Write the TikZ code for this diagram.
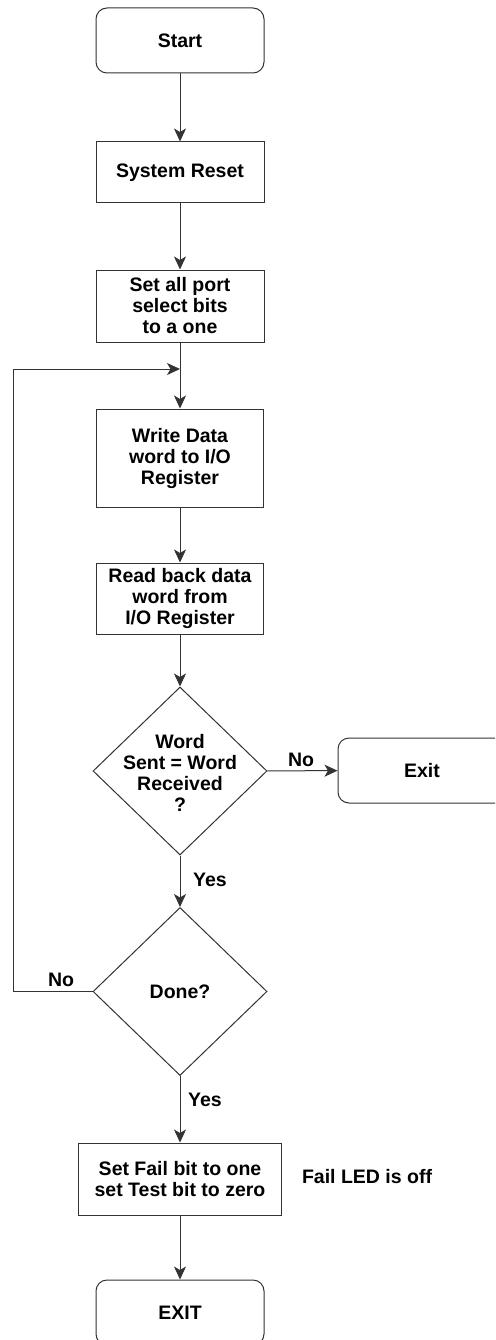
\documentclass[tikz,border=0pt]{standalone}
\usepackage{fontspec}
\setmainfont{Liberation Sans}
\usetikzlibrary{shapes.geometric,arrows.meta}

\definecolor{edge}{HTML}{333333}

\tikzset{
  every node/.style={font=\bfseries\fontsize{19.5}{21}\selectfont, text=black},
  procbox/.style={draw=edge, line width=1pt, rectangle, align=center, inner sep=0pt},
  termbox/.style={procbox, rounded corners=11pt, minimum width=168pt, minimum height=65pt},
  decision/.style={draw=edge, line width=1pt, diamond, inner sep=0pt,
                   minimum width=174pt, minimum height=168pt},
  flow/.style={draw=edge, line width=1pt, -{Stealth[length=13pt,width=12pt,inset=3.5pt]}},
  tag/.style={inner sep=0pt}
}

\begin{document}
\begin{tikzpicture}[x=1pt,y=-1pt]
  % page frame
  \fill[white] (0,0) rectangle (495,1340);
  \clip (0,0) rectangle (495,1340);

  % main column of steps
  \node[termbox] (start) at (180,40.5) {Start};
  \node[procbox, minimum width=168pt, minimum height=61pt] (reset) at (180,172.5) {System Reset};
  \node[procbox, minimum width=168pt, minimum height=72pt] (ports) at (180,306) {Set all port\\select bits\\to a one};
  \node[procbox, minimum width=167pt, minimum height=98pt] (write) at (180,458) {Write Data\\word to I/O\\Register};
  \node[procbox, minimum width=167pt, minimum height=71pt] (read) at (180,598.5) {Read back data\\word from\\I/O Register};

  % word comparison
  \node[decision] (cmp) at (180,771) {};
  \node[align=center, tag] (cmptext) at (180,773) {Word\\Sent = Word\\Received\\?};
  \node[termbox] (exitr) at (422,770.5) {Exit};

  % loop test
  \node[decision] (done) at (180,991.5) {};
  \node[tag] (donetext) at (180,992) {Done?};

  % final steps
  \node[procbox, minimum width=203pt, minimum height=72pt] (setfail) at (180,1179) {Set Fail bit to one\\set Test bit to zero};
  \node[tag] (ledtext) at (367,1177) {Fail LED is off};
  \node[termbox] (exitb) at (180,1312.5) {EXIT};

  % connectors
  \draw[flow] (start) -- (reset);
  \draw[flow] (reset) -- (ports);
  \draw[flow] (ports) -- (write);
  \draw[flow] (write) -- (read);
  \draw[flow] (read) -- (cmp);
  \draw[flow] (cmp) -- (exitr);
  \draw[flow] (cmp) -- (done);
  \draw[flow] (done) -- (setfail);
  \draw[flow] (setfail) -- (exitb);

  % return path for another pass
  \coordinate (join) at (180,369);
  \coordinate (loopleft) at (13,991.5);
  \draw[flow] (done.west) -- (loopleft) |- (join);

  % branch labels
  \node[tag] (nocmp) at (301,760) {No};
  \node[tag] (yescmp) at (210,880) {Yes};
  \node[tag] (nodone) at (61,980) {No};
  \node[tag] (yesdone) at (205,1100) {Yes};
\end{tikzpicture}
\end{document}
